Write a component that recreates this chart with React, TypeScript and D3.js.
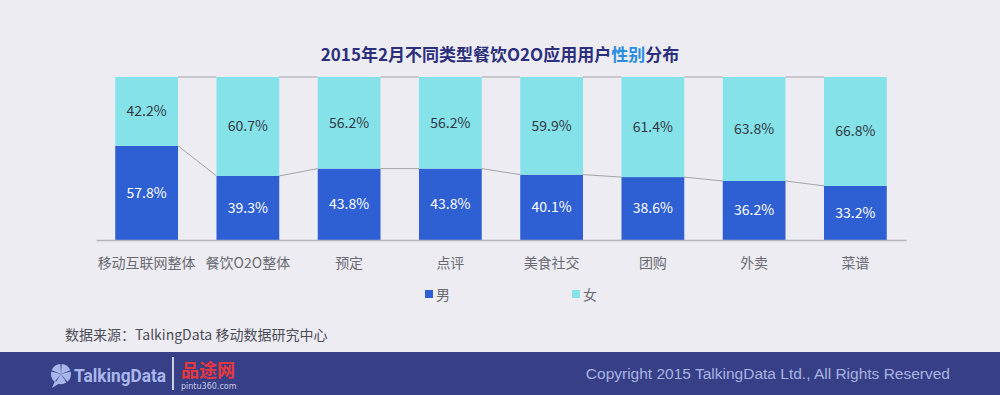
import { useEffect, useRef } from "react";
import * as d3 from "d3";

// data
const categories = ["移动互联网整体", "餐饮O2O整体", "预定", "点评", "美食社交", "团购", "外卖", "菜谱"];
const maleShare = [57.8, 39.3, 43.8, 43.8, 40.1, 38.6, 36.2, 33.2];
const femaleShare = [42.2, 60.7, 56.2, 56.2, 59.9, 61.4, 63.8, 66.8];
const seriesNames = ["男", "女"];

const W = 1000;
const H = 395;
const MALE = "#2e5fd3";
const FEMALE = "#84e2e8";
const CJK = "'Noto Sans CJK SC', 'Noto Sans', sans-serif";

const App = () => {
  const svgRef = useRef<SVGSVGElement>(null);

  useEffect(() => {
    const svg = d3.select(svgRef.current);
    svg.selectAll("*").remove();

    svg.append("rect").attr("width", W).attr("height", H).attr("fill", "#edecf2");

    // title
    const title = svg
      .append("text")
      .attr("x", 500)
      .attr("y", 61)
      .attr("text-anchor", "middle")
      .attr("font-family", CJK)
      .attr("font-size", 17)
      .attr("font-weight", "bold")
      .attr("fill", "#2b2f7c");
    title.append("tspan").text("2015年2月不同类型餐饮O2O应用用户");
    title.append("tspan").attr("fill", "#2a8de2").text("性别");
    title.append("tspan").text("分布");

    const x = d3
      .scaleBand()
      .domain(categories)
      .range([96, 906])
      .paddingInner(0.38)
      .paddingOuter(0.19);
    const y = d3.scaleLinear().domain([0, 100]).range([240, 77]);
    const bw = x.bandwidth();

    const g = svg.append("g");

    // connector lines between bars
    for (let i = 0; i < categories.length - 1; i++) {
      const x0 = (x(categories[i]) as number) + bw;
      const x1 = x(categories[i + 1]) as number;
      g.append("line")
        .attr("x1", x0).attr("x2", x1)
        .attr("y1", y(maleShare[i])).attr("y2", y(maleShare[i + 1]))
        .attr("stroke", "#a3a3ab").attr("stroke-width", 1);
      g.append("line")
        .attr("x1", x0).attr("x2", x1)
        .attr("y1", y(100)).attr("y2", y(100))
        .attr("stroke", "#a3a3ab").attr("stroke-width", 1);
    }

    categories.forEach((c, i) => {
      const bx = x(c) as number;
      const m = maleShare[i];
      const f = femaleShare[i];
      g.append("rect")
        .attr("x", bx).attr("width", bw)
        .attr("y", y(m)).attr("height", y(0) - y(m))
        .attr("fill", MALE);
      g.append("rect")
        .attr("x", bx).attr("width", bw)
        .attr("y", y(m + f)).attr("height", y(m) - y(m + f))
        .attr("fill", FEMALE);
      g.append("text")
        .attr("x", bx + bw / 2)
        .attr("y", (y(0) + y(m)) / 2)
        .attr("dy", "0.35em")
        .attr("text-anchor", "middle")
        .attr("font-family", CJK)
        .attr("font-size", 14)
        .attr("fill", "#ffffff")
        .text(m.toFixed(1) + "%");
      g.append("text")
        .attr("x", bx + bw / 2)
        .attr("y", (y(m) + y(m + f)) / 2)
        .attr("dy", "0.35em")
        .attr("text-anchor", "middle")
        .attr("font-family", CJK)
        .attr("font-size", 14)
        .attr("fill", "#333845")
        .text(f.toFixed(1) + "%");
    });

    // x axis
    const xAxis = svg
      .append("g")
      .attr("transform", `translate(0, ${y(0)})`)
      .call(d3.axisBottom(x).tickSize(0).tickPadding(18));
    xAxis.select(".domain").attr("stroke", "#b5b5bb").attr("stroke-width", 1.5);
    xAxis
      .selectAll("text")
      .attr("font-family", CJK)
      .attr("font-size", 14)
      .attr("fill", "#6a6a72");

    // legend
    const legend = [
      { name: seriesNames[0], color: MALE, x: 425 },
      { name: seriesNames[1], color: FEMALE, x: 572 },
    ];
    legend.forEach((l) => {
      svg.append("rect")
        .attr("x", l.x).attr("y", 290)
        .attr("width", 8).attr("height", 8)
        .attr("fill", l.color);
      svg.append("text")
        .attr("x", l.x + 11).attr("y", 300)
        .attr("font-family", CJK)
        .attr("font-size", 14)
        .attr("fill", "#6a6a72")
        .text(l.name);
    });

    // source
    svg.append("text")
      .attr("x", 65).attr("y", 340)
      .attr("font-family", CJK)
      .attr("font-size", 14)
      .attr("fill", "#4c4c58")
      .text("数据来源：TalkingData 移动数据研究中心");

    // footer band
    svg.append("rect")
      .attr("x", 0).attr("y", 352)
      .attr("width", W).attr("height", H - 352)
      .attr("fill", "#373f86");

    // logo icon
    const icon = svg.append("g").attr("transform", "translate(61, 374)");
    const arc = d3.arc<any>().innerRadius(0).outerRadius(10);
    const pie = d3.pie<number>().sort(null).padAngle(0.12)([1, 1, 1, 1, 1]);
    pie.forEach((p) => {
      icon.append("path").attr("d", arc(p) as string).attr("fill", "#a9b7ec");
    });
    icon.append("path").attr("d", "M-6,7 L-9,14 L-1,9 Z").attr("fill", "#a9b7ec");

    svg.append("text")
      .attr("x", 74).attr("y", 382)
      .attr("font-family", "'Roboto', 'DejaVu Sans Condensed', sans-serif")
      .attr("font-size", 19)
      .attr("font-weight", "bold")
      .attr("fill", "#a9b7ec")
      .attr("textLength", 92)
      .attr("lengthAdjust", "spacingAndGlyphs")
      .text("TalkingData");

    svg.append("line")
      .attr("x1", 173).attr("x2", 173)
      .attr("y1", 357).attr("y2", 390)
      .attr("stroke", "#ffffff").attr("stroke-width", 1.5);

    svg.append("text")
      .attr("x", 181).attr("y", 377)
      .attr("font-family", "'Noto Sans CJK SC', serif")
      .attr("font-size", 18)
      .attr("font-weight", "bold")
      .attr("fill", "#e8373c")
      .text("品途网");
    svg.append("text")
      .attr("x", 181).attr("y", 389)
      .attr("font-family", "'DejaVu Sans', sans-serif")
      .attr("font-size", 8)
      .attr("fill", "#c5cbe8")
      .text("pintu360.com");

    svg.append("text")
      .attr("x", 950).attr("y", 379)
      .attr("text-anchor", "end")
      .attr("font-family", "'Liberation Sans', Arial, sans-serif")
      .attr("font-size", 15.5)
      .attr("fill", "#a8b3e3")
      .text("Copyright 2015 TalkingData Ltd., All Rights Reserved");
  }, []);

  return (
    <div style={{ position: "fixed", left: 0, top: 0 }}>
      <svg ref={svgRef} width={W} height={H} style={{ display: "block" }} />
    </div>
  );
};

export default App;
